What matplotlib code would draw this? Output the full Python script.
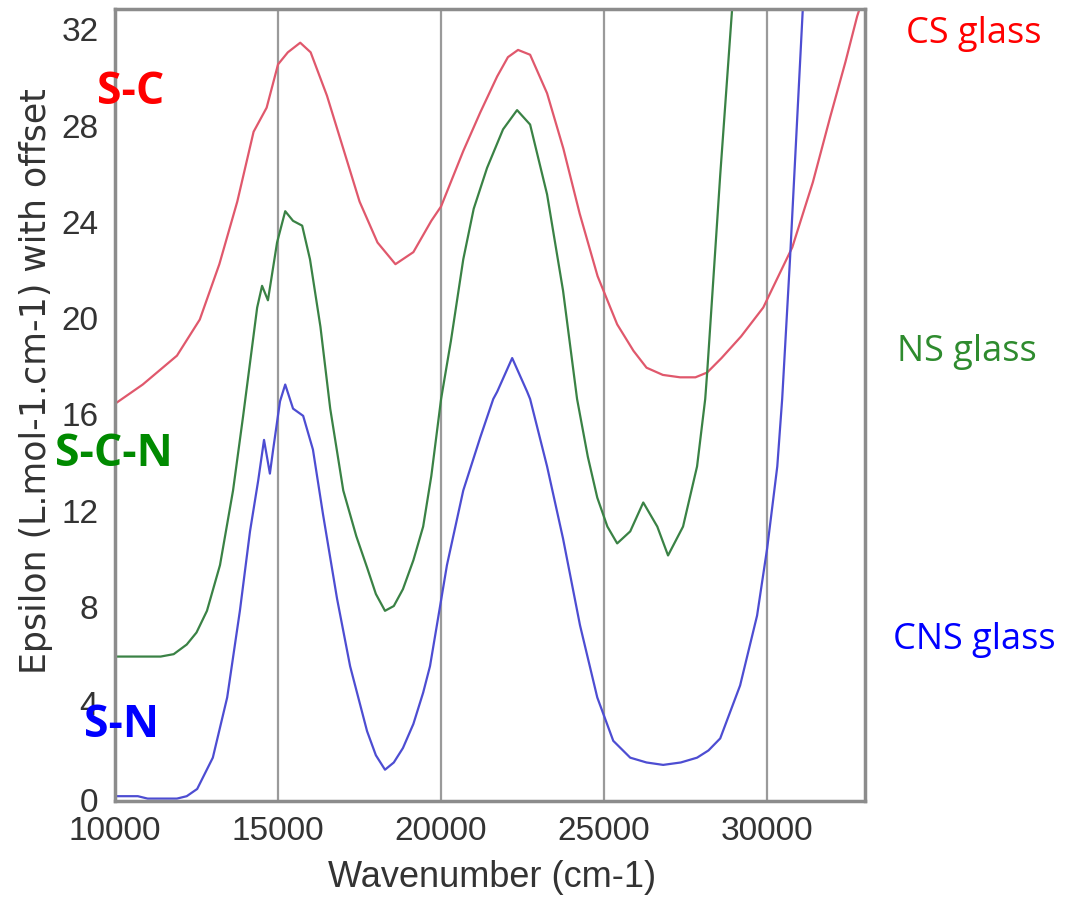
import matplotlib.pyplot as plt

# wavenumber (cm-1) / epsilon with offset
cs_x = [10000, 10850, 11900, 12600, 13200, 13750, 14250, 14650, 15000, 15300,
        15680, 16000, 16500, 17000, 17500, 18050, 18600, 19150, 19700, 20000,
        20680, 21200, 21720, 22050, 22360, 22730, 23250, 23750, 24250, 24800,
        25400, 25900, 26300, 26800, 27330, 27800, 28160, 28600, 29200, 29880,
        30770, 31400, 31930, 32400, 32760, 33000]
cs_y = [16.4, 17.2, 18.4, 19.9, 22.2, 24.8, 27.7, 28.7, 30.5, 31.0,
        31.4, 31.0, 29.2, 27.0, 24.8, 23.1, 22.2, 22.7, 24.0, 24.6,
        26.9, 28.5, 30.0, 30.8, 31.1, 30.9, 29.3, 27.0, 24.3, 21.7,
        19.7, 18.6, 17.9, 17.6, 17.5, 17.5, 17.7, 18.3, 19.2, 20.4,
        22.9, 25.6, 28.3, 30.6, 32.5, 33.5]

ns_x = [10000, 11000, 11400, 11800, 12200, 12500, 12820, 13220, 13620, 13930,
        14360, 14510, 14690, 14970, 15220, 15460, 15740, 15980, 16300, 16600,
        17000, 17400, 17730, 18000, 18280, 18550, 18830, 19150, 19450, 19700,
        20000, 20300, 20680, 21000, 21410, 21900, 22330, 22730, 23250, 23740,
        24170, 24500, 24790, 25100, 25400, 25800, 26200, 26630, 26960, 27420,
        27850, 28100, 28160, 28560, 28930]
ns_y = [5.9, 5.9, 5.9, 6.0, 6.4, 6.9, 7.8, 9.7, 12.8, 15.9,
        20.4, 21.3, 20.7, 23.1, 24.4, 24.0, 23.8, 22.4, 19.6, 16.2,
        12.8, 10.9, 9.6, 8.5, 7.8, 8.0, 8.7, 9.9, 11.3, 13.4,
        16.6, 19.0, 22.4, 24.5, 26.2, 27.8, 28.6, 28.0, 25.1, 21.1,
        16.6, 14.2, 12.5, 11.3, 10.6, 11.1, 12.3, 11.3, 10.1, 11.3,
        13.8, 16.6, 17.7, 25.9, 32.9]

cns_x = [10000, 10400, 10700, 11000, 11500, 11900, 12200, 12520, 13000, 13440,
         13830, 14140, 14390, 14570, 14750, 14850, 15060, 15220, 15460, 15770,
         16070, 16380, 16810, 17210, 17730, 18000, 18280, 18550, 18830, 19150,
         19450, 19660, 19970, 20180, 20680, 21200, 21600, 21720, 22180, 22640,
         22730, 23250, 23740, 24260, 24790, 25280, 25800, 26300, 26810, 27350,
         27850, 28200, 28560, 29170, 29690, 30000, 30310, 30460, 30700, 31100]
cns_y = [0.1, 0.1, 0.1, 0.0, 0.0, 0.0, 0.1, 0.4, 1.7, 4.2,
         7.8, 11.1, 13.2, 14.9, 13.5, 14.5, 16.5, 17.2, 16.2, 15.9,
         14.5, 11.8, 8.3, 5.5, 2.8, 1.8, 1.2, 1.5, 2.1, 3.1,
         4.4, 5.5, 8.0, 9.7, 12.8, 15.0, 16.6, 16.9, 18.3, 16.9,
         16.6, 13.8, 10.8, 7.2, 4.2, 2.4, 1.7, 1.5, 1.4, 1.5,
         1.7, 2.0, 2.5, 4.7, 7.6, 10.4, 13.8, 16.6, 22.4, 33.0]

x_ticks = [10000, 15000, 20000, 25000, 30000]
y_ticks = [0, 4, 8, 12, 16, 20, 24, 28, 32]

fig = plt.figure(figsize=(10.77, 9.04), dpi=100)
ax = fig.add_axes([115 / 1077, 102 / 904, 750 / 1077, 792 / 904])

for xv in x_ticks[1:]:
    ax.axvline(xv, color="#9a9a9a", lw=1.6, zorder=0)

ax.plot(cs_x, cs_y, color="#e0586c", lw=1.6)
ax.plot(ns_x, ns_y, color="#3a8245", lw=1.6)
ax.plot(cns_x, cns_y, color="#4d4dd2", lw=1.6)

ax.set_xlim(10000, 33000)
ax.set_ylim(-0.1, 32.8)
ax.set_xticks(x_ticks)
ax.set_yticks(y_ticks)
ax.tick_params(length=0, labelsize=24, labelcolor="#333333")
ax.tick_params(axis="y", pad=12)
ax.tick_params(axis="x", pad=10)
for lbl in ax.get_xticklabels() + ax.get_yticklabels():
    lbl.set_family("Liberation Sans")
for sp in ax.spines.values():
    sp.set_color("#8c8c8c")
    sp.set_linewidth(2.5)

# axis titles
fig.text(492 / 1077, 1 - 878 / 904, "Wavenumber (cm-1)", fontsize=26,
         color="#333333", family="Liberation Sans", ha="center", va="center")
fig.text(36 / 1077, 1 - 381 / 904, "Epsilon (L.mol-1.cm-1) with offset",
         fontsize=25, color="#333333", family="DejaVu Sans", rotation=90,
         ha="center", va="center")

# series names on the right, bond labels on the left
fig.text(906 / 1077, 1 - 34 / 904, "CS glass", color="#ff0000", fontsize=26,
         family="Open Sans", va="center", ha="left")
fig.text(897 / 1077, 1 - 352 / 904, "NS glass", color="#2e8b2e", fontsize=26,
         family="Open Sans", va="center", ha="left")
fig.text(893 / 1077, 1 - 640 / 904, "CNS glass", color="#0000ff", fontsize=26,
         family="Open Sans", va="center", ha="left")
fig.text(97 / 1077, 1 - 92 / 904, "S-C", color="#ff0000", fontsize=32,
         family="Open Sans", weight="bold", va="center", ha="left")
fig.text(55 / 1077, 1 - 455 / 904, "S-C-N", color="#008a00", fontsize=32,
         family="Open Sans", weight="bold", va="center", ha="left")
fig.text(84 / 1077, 1 - 726 / 904, "S-N", color="#0000ff", fontsize=32,
         family="Open Sans", weight="bold", va="center", ha="left")

fig.savefig("out.png", dpi=100)
